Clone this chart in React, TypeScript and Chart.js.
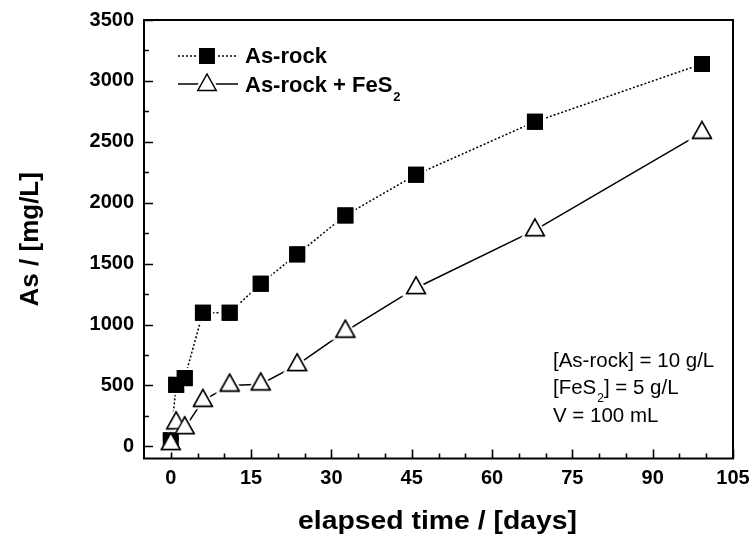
import { useEffect, useRef } from 'react';
import { Chart, registerables } from 'chart.js';

Chart.register(...registerables);

// Sampling days and measured dissolved arsenic
const days = [0, 1, 2.6, 6, 11, 16.8, 23.6, 32.6, 45.8, 68, 99.2];
const asRock = [50, 505, 560, 1097, 1097, 1335, 1576, 1896, 2230, 2665, 3139];
const asRockFeS2 = [20, 190, 150, 375, 500, 510, 668, 943, 1300, 1775, 2575];

// Axis ranges and tick marks
const xMin = -5;
const xMax = 105;
const xMajorTicks = [0, 15, 30, 45, 60, 75, 90, 105];
const xMinorStep = 5;
const yMin = -100;
const yMax = 3500;
const yMajorTicks = [0, 500, 1000, 1500, 2000, 2500, 3000, 3500];
const yMinorStep = 250;

const legendLabels = ['As-rock', 'As-rock + FeS'];
const conditionLines = ['[As-rock] = 10 g/L', '[FeS', '] = 5 g/L', 'V = 100 mL'];
const xTitle = 'elapsed time / [days]';
const yTitle = 'As / [mg/L]';

const FONT = '"Liberation Sans", Arial, Helvetica, sans-serif';

type MarkerKind = 'square' | 'triangle';

// Marker bitmap; an optional white ring makes the connecting lines stop short of it
function makeMarker(kind: MarkerKind, halo: number): HTMLCanvasElement {
  const size = 36;
  const c = document.createElement('canvas');
  c.width = size;
  c.height = size;
  const ctx = c.getContext('2d')!;
  const cx = size / 2;
  const cy = size / 2;
  const path = (grow: number) => {
    ctx.beginPath();
    if (kind === 'square') {
      const h = 7.2 + grow;
      ctx.rect(cx - h, cy - h, 2 * h, 2 * h);
    } else {
      const s = (5.5 + grow) / 5.5;
      const w = 18.4 * s;
      const hgt = 16.5 * s;
      ctx.moveTo(cx, cy - (2 / 3) * hgt);
      ctx.lineTo(cx + w / 2, cy + hgt / 3);
      ctx.lineTo(cx - w / 2, cy + hgt / 3);
      ctx.closePath();
    }
  };
  if (halo > 0) {
    ctx.fillStyle = '#ffffff';
    path(halo);
    ctx.fill();
  }
  ctx.lineWidth = 1.5;
  ctx.lineJoin = 'miter';
  ctx.strokeStyle = '#000000';
  ctx.fillStyle = kind === 'square' ? '#000000' : '#ffffff';
  path(0);
  ctx.fill();
  ctx.stroke();
  return c;
}

export default function App() {
  const canvasRef = useRef<HTMLCanvasElement | null>(null);

  useEffect(() => {
    const canvas = canvasRef.current;
    if (!canvas) return;
    const squareHalo = makeMarker('square', 3);
    const triangleHalo = makeMarker('triangle', 3);
    const squarePlain = makeMarker('square', 0);
    const trianglePlain = makeMarker('triangle', 0);

    const framePlugin = {
      id: 'frameAndTicks',
      beforeDatasetsDraw(chart: any) {
        const { ctx, chartArea } = chart;
        const { left, right, top, bottom } = chartArea;
        const xs = chart.scales.x;
        const ys = chart.scales.y;
        ctx.save();
        ctx.strokeStyle = '#000';
        ctx.lineWidth = 2;
        ctx.strokeRect(left, top, right - left, bottom - top);
        ctx.lineWidth = 1.6;
        ctx.beginPath();
        for (let v = 0; v <= xMax + 1e-9; v += xMinorStep) {
          const px = Math.round(xs.getPixelForValue(v)) + 0.5;
          const len = xMajorTicks.includes(v) ? 9 : 5;
          ctx.moveTo(px, bottom);
          ctx.lineTo(px, bottom - len);
        }
        for (let v = 0; v <= yMax + 1e-9; v += yMinorStep) {
          const py = Math.round(ys.getPixelForValue(v)) + 0.5;
          const len = yMajorTicks.includes(v) ? 9 : 5;
          ctx.moveTo(left, py);
          ctx.lineTo(left + len, py);
        }
        ctx.stroke();
        ctx.restore();
      },
      afterDatasetsDraw(chart: any) {
        // put the plain symbols back on top so overlapping markers stay whole
        const { ctx } = chart;
        const plain = [squarePlain, trianglePlain];
        ctx.save();
        [0, 1].forEach((di) => {
          const meta = chart.getDatasetMeta(di);
          meta.data.forEach((el: any) => {
            ctx.drawImage(plain[di], el.x - 18, el.y - 18);
          });
        });
        ctx.restore();
      },
      afterDraw(chart: any) {
        const { ctx, chartArea } = chart;
        ctx.save();
        ctx.fillStyle = '#000';
        ctx.strokeStyle = '#000';

        // legend
        ctx.lineWidth = 1.5;
        ctx.setLineDash([2, 2]);
        ctx.beginPath();
        ctx.moveTo(178, 56);
        ctx.lineTo(238, 56);
        ctx.stroke();
        ctx.setLineDash([]);
        ctx.beginPath();
        ctx.moveTo(178, 84);
        ctx.lineTo(238, 84);
        ctx.stroke();
        ctx.drawImage(squareHalo, 207 - 18, 56 - 18);
        ctx.drawImage(triangleHalo, 207 - 18, 85 - 18);

        ctx.textAlign = 'left';
        ctx.textBaseline = 'alphabetic';
        ctx.font = `bold 22px ${FONT}`;
        ctx.fillText(legendLabels[0], 245, 63);
        ctx.fillText(legendLabels[1], 245, 91.5);
        const w1 = ctx.measureText(legendLabels[1]).width;
        ctx.font = `bold 13px ${FONT}`;
        ctx.fillText('2', 245 + w1 + 1, 100.5);

        // experimental conditions
        const ax = 553;
        ctx.font = `20.5px ${FONT}`;
        ctx.fillText(conditionLines[0], ax, 367);
        ctx.fillText(conditionLines[1], ax, 394);
        const wf = ctx.measureText(conditionLines[1]).width;
        ctx.font = `12px ${FONT}`;
        ctx.fillText('2', ax + wf + 1, 402);
        const w2 = ctx.measureText('2').width;
        ctx.font = `20.5px ${FONT}`;
        ctx.fillText(conditionLines[2], ax + wf + 1 + w2, 394);
        ctx.fillText(conditionLines[3], ax, 421.5);

        // axis titles
        ctx.font = `bold 25px ${FONT}`;
        const tw = ctx.measureText(xTitle).width;
        ctx.save();
        ctx.translate((chartArea.left + chartArea.right) / 2 - 1, 529);
        ctx.scale(279 / tw, 1);
        ctx.textAlign = 'center';
        ctx.fillText(xTitle, 0, 0);
        ctx.restore();

        ctx.font = `bold 26px ${FONT}`;
        ctx.save();
        ctx.translate(38, (chartArea.top + chartArea.bottom) / 2);
        ctx.rotate(-Math.PI / 2);
        ctx.textAlign = 'center';
        ctx.fillText(yTitle, 0, 0);
        ctx.restore();

        ctx.restore();
      },
    };

    const chart = new Chart(canvas, {
      type: 'scatter',
      data: {
        datasets: [
          {
            label: legendLabels[0],
            data: days.map((d, i) => ({ x: d, y: asRock[i] })),
            showLine: true,
            borderColor: '#000',
            borderWidth: 1.5,
            borderDash: [2, 2],
            pointStyle: squareHalo,
            pointRadius: 11,
            order: 2,
          },
          {
            label: legendLabels[1] + '2',
            data: days.map((d, i) => ({ x: d, y: asRockFeS2[i] })),
            showLine: true,
            borderColor: '#000',
            borderWidth: 1.5,
            pointStyle: triangleHalo,
            pointRadius: 11,
            order: 1,
          },
        ],
      },
      options: {
        animation: false,
        responsive: false,
        devicePixelRatio: 1,
        layout: { padding: { top: 20, right: 21, left: 0, bottom: 0 } },
        plugins: {
          legend: { display: false },
          tooltip: { enabled: false },
        },
        scales: {
          x: {
            type: 'linear',
            min: xMin,
            max: xMax,
            grid: { display: false },
            border: { display: false },
            afterBuildTicks: (s: any) => {
              s.ticks = xMajorTicks.map((v) => ({ value: v }));
            },
            afterFit: (s: any) => {
              s.height = 82.5;
            },
            ticks: {
              color: '#000',
              padding: 0,
              maxRotation: 0,
              font: { family: FONT, size: 20, weight: 'bold' },
              callback: (v: any) => String(v),
            },
          },
          y: {
            type: 'linear',
            min: yMin,
            max: yMax,
            grid: { display: false },
            border: { display: false },
            afterBuildTicks: (s: any) => {
              s.ticks = yMajorTicks.map((v) => ({ value: v }));
            },
            afterFit: (s: any) => {
              s.width = 144;
            },
            ticks: {
              color: '#000',
              padding: 2,
              font: { family: FONT, size: 20, weight: 'bold' },
              callback: (v: any) => String(v),
            },
          },
        },
      },
      plugins: [framePlugin],
    } as any);

    return () => chart.destroy();
  }, []);

  return (
    <div style={{ position: 'fixed', left: 0, top: 0, width: 754, height: 541, background: '#fff' }}>
      <canvas ref={canvasRef} width={754} height={541} style={{ display: 'block', width: 754, height: 541 }} />
    </div>
  );
}
